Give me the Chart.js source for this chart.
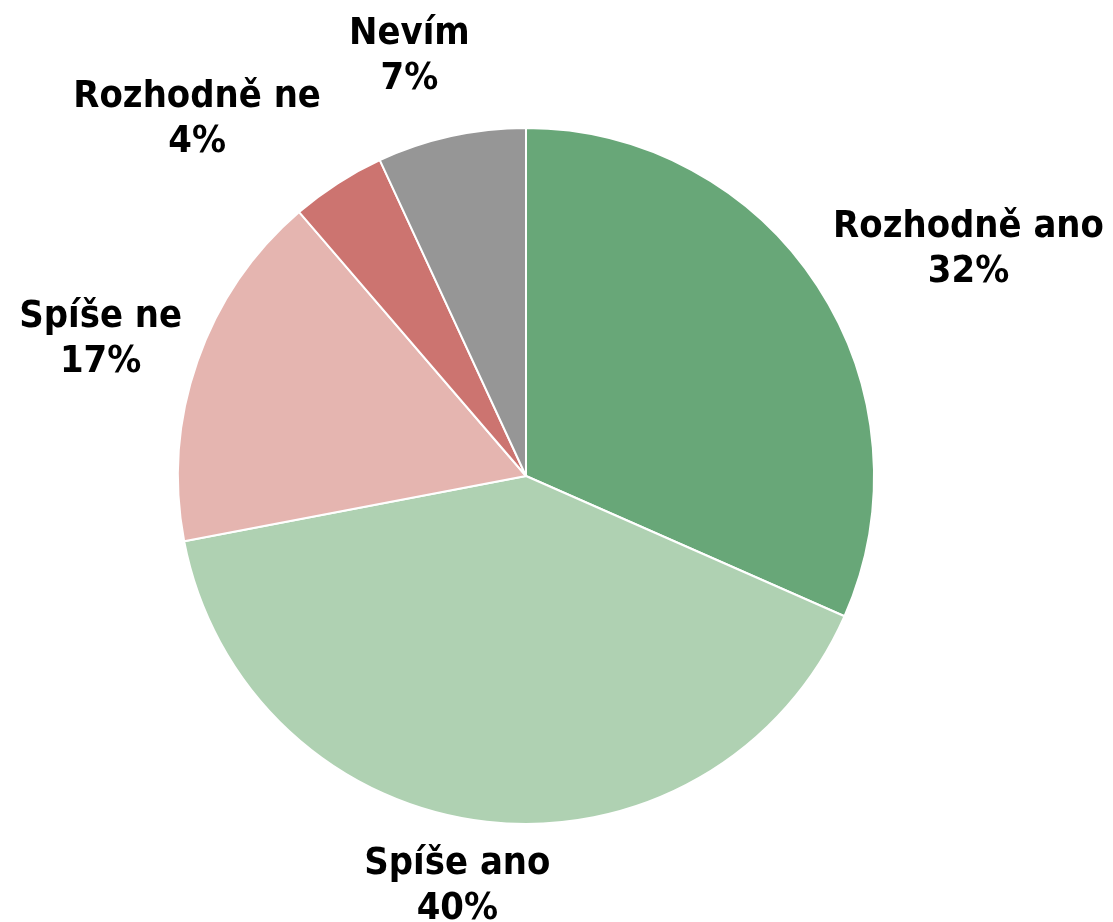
<!DOCTYPE html>
<html>
<head>
<meta charset="utf-8">
<script src="https://cdn.jsdelivr.net/npm/chart.js@4"></script>
<style>
  html, body { margin: 0; padding: 0; background: #ffffff; }
  #wrap { width: 1113px; height: 922px; }
</style>
</head>
<body>
<div id="wrap"><canvas id="pie" width="1113" height="922"></canvas></div>
<script>
// answers and their shares (%), labels show them rounded
const categories = ['Rozhodně ano', 'Spíše ano', 'Spíše ne', 'Rozhodně ne', 'Nevím'];
const shares = [31.6, 40.4, 16.7, 4.4, 6.9];
const sliceColors = ['#68a778', '#afd1b2', '#e5b5b0', '#cc7470', '#969696'];

// draws "name / NN%" outside each slice, roughly like Excel's best-fit labels
const outsideLabels = {
    id: 'outsideLabels',
    afterDatasetsDraw(chart) {
        const ctx = chart.ctx;
        const meta = chart.getDatasetMeta(0);
        const lineH = 45;
        const stretch = 1.1; // the original font is a bit taller than DejaVu
        ctx.save();
        ctx.font = 'bold 34px "DejaVu Sans", Verdana, sans-serif';
        ctx.fillStyle = '#000000';
        ctx.textAlign = 'center';
        ctx.textBaseline = 'middle';
        meta.data.forEach((arc, i) => {
            const mid = (arc.startAngle + arc.endAngle) / 2;
            const s = Math.sin(mid);
            // labels near the top / bottom sit a bit further out
            const r = arc.outerRadius + 16 + (s < 0 ? 30 : 12) * Math.pow(Math.abs(s), 4);
            const ax = arc.x + r * Math.cos(mid);
            const ay = arc.y + r * s;
            const lines = [categories[i], Math.round(shares[i]) + '%'];
            const w = Math.max(...lines.map(t => ctx.measureText(t).width));
            const h = 74;
            const sx = Math.max(-1, Math.min(1, 2.5 * Math.cos(mid)));
            const sy = Math.max(-1, Math.min(1, 1.3 * s));
            const cx = ax + sx * w / 2;
            const cy = ay + sy * h / 2;
            ctx.save();
            ctx.translate(cx, cy);
            ctx.scale(1, stretch);
            ctx.fillText(lines[0], 0, -lineH / 2 / stretch);
            ctx.fillText(lines[1], 0, lineH / 2 / stretch);
            ctx.restore();
        });
        ctx.restore();
    }
};

const ctx = document.getElementById('pie').getContext('2d');
const chartInstance = new Chart(ctx, {
    type: 'pie',
    data: {
        labels: categories,
        datasets: [{
            data: shares,
            backgroundColor: sliceColors,
            borderColor: '#ffffff',
            borderWidth: 2
        }]
    },
    options: {
        responsive: false,
        animation: false,
        layout: {
            padding: { top: 127, bottom: 97, left: 177, right: 238 }
        },
        plugins: {
            legend: { display: false },
            tooltip: { enabled: false }
        }
    },
    plugins: [outsideLabels]
});
</script>
</body>
</html>
